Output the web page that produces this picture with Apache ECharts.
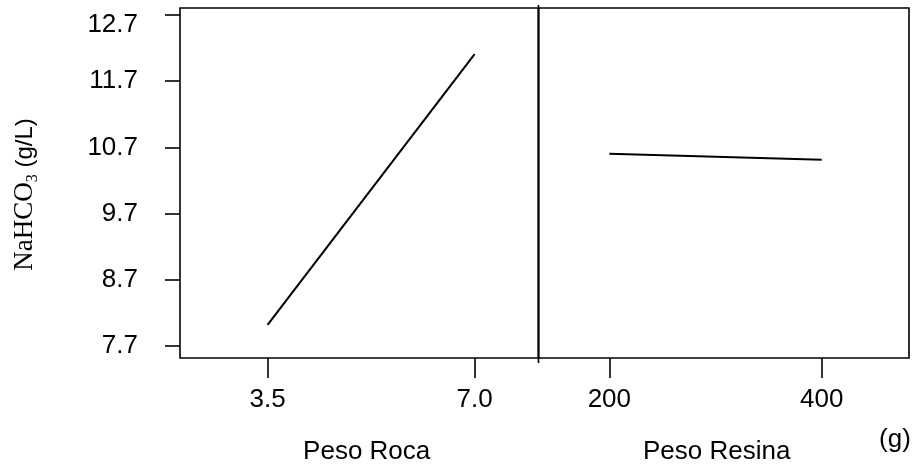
<!DOCTYPE html>
<html>
<head>
<meta charset="utf-8">
<script src="https://cdn.jsdelivr.net/npm/echarts@6/dist/echarts.min.js"></script>
<style>
html,body{margin:0;padding:0;background:#fff;}
#chart{width:917px;height:472px;}
</style>
</head>
<body>
<div id="chart"></div>
<script>
// Tick values
const yTicks = [7.7, 8.7, 9.7, 10.7, 11.7, 12.7];
const rocaTicks = [3.5, 7.0];
const resinaTicks = [200, 400];
// Series values
const rocaX = [3.5, 7.0];
const rocaY = [8.02, 12.11];
const resinaX = [200, 400];
const resinaY = [10.605, 10.514];
// Titles
const rocaTitle = 'Peso Roca';
const resinaTitle = 'Peso Resina';
const unitTitle = '(g)';

const chart = echarts.init(document.getElementById('chart'), null, {renderer: 'canvas'});
const sans = 'Liberation Sans, Arial, sans-serif';
const serif = 'Liberation Serif, Times New Roman, serif';
const fs = 26;
const tickStyle = {color: '#000', width: 1.6};

const option = {
  animation: false,
  backgroundColor: '#fff',
  grid: [
    {left: 180, top: 8, width: 358.5, height: 350, show: true, borderColor: '#000', borderWidth: 1.6, backgroundColor: 'transparent'},
    {left: 538.5, top: 8, width: 370.5, height: 350, show: true, borderColor: '#000', borderWidth: 1.6, backgroundColor: 'transparent'}
  ],
  xAxis: [
    {
      type: 'value', gridIndex: 0, min: 2.02, max: 8.08,
      splitLine: {show: false}, axisLine: {show: false},
      axisTick: {show: true, length: 20, lineStyle: tickStyle, customValues: rocaTicks},
      axisLabel: {show: true, margin: 29, color: '#000', fontFamily: sans, fontSize: fs,
        customValues: rocaTicks, formatter: v => v.toFixed(1)}
    },
    {
      type: 'value', gridIndex: 1, min: 133.3, max: 482.2,
      splitLine: {show: false}, axisLine: {show: false},
      axisTick: {show: true, length: 20, lineStyle: tickStyle, customValues: resinaTicks},
      axisLabel: {show: true, margin: 29, color: '#000', fontFamily: sans, fontSize: fs,
        customValues: resinaTicks, formatter: v => String(v)}
    }
  ],
  yAxis: [
    {
      type: 'value', gridIndex: 0, min: 7.52, max: 12.806,
      splitLine: {show: false}, axisLine: {show: false},
      axisTick: {show: true, length: 15, lineStyle: tickStyle, customValues: yTicks},
      axisLabel: {show: true, margin: 42, color: '#000', fontFamily: sans, fontSize: fs,
        customValues: yTicks,
        formatter: v => {
          const s = v.toFixed(1);
          return Math.abs(v - yTicks[yTicks.length - 1]) < 1e-6 ? '{top|' + s + '}' : s;
        },
        rich: {top: {fontFamily: sans, fontSize: fs, color: '#000', padding: [19, 0, 0, 0]}}
      }
    },
    {
      type: 'value', gridIndex: 1, min: 7.52, max: 12.806, show: false,
      splitLine: {show: false}
    }
  ],
  series: [
    {type: 'line', xAxisIndex: 0, yAxisIndex: 0, data: rocaX.map((x, i) => [x, rocaY[i]]),
      symbol: 'none', lineStyle: {color: '#000', width: 2}},
    {type: 'line', xAxisIndex: 1, yAxisIndex: 1, data: resinaX.map((x, i) => [x, resinaY[i]]),
      symbol: 'none', lineStyle: {color: '#000', width: 2}}
  ],
  graphic: [
    {type: 'line', shape: {x1: 538.5, y1: 5, x2: 538.5, y2: 363}, style: {stroke: '#000', lineWidth: 1.6}, silent: true},
    {type: 'text', x: 366.7, y: 452, style: {text: rocaTitle, fill: '#000', font: fs + 'px ' + sans, align: 'center', verticalAlign: 'middle'}},
    {type: 'text', x: 716.7, y: 452, style: {text: resinaTitle, fill: '#000', font: fs + 'px ' + sans, align: 'center', verticalAlign: 'middle'}},
    {type: 'text', x: 895, y: 440, style: {text: unitTitle, fill: '#000', font: fs + 'px ' + sans, align: 'center', verticalAlign: 'middle'}},
    {type: 'text', x: 25, y: 194.5, rotation: Math.PI / 2,
      style: {
        text: '{a|NaHCO}{s|3}{b| (g/L)}',
        align: 'center', verticalAlign: 'middle', fill: '#000',
        rich: {
          a: {fontFamily: serif, fontSize: 27, lineHeight: 32, fill: '#000', color: '#000'},
          s: {fontFamily: serif, fontSize: 16, lineHeight: 16, verticalAlign: 'bottom', fill: '#000', color: '#000'},
          b: {fontFamily: sans, fontSize: 24, lineHeight: 32, fill: '#000', color: '#000'}
        }
      }}
  ]
};
chart.setOption(option);
</script>
</body>
</html>
